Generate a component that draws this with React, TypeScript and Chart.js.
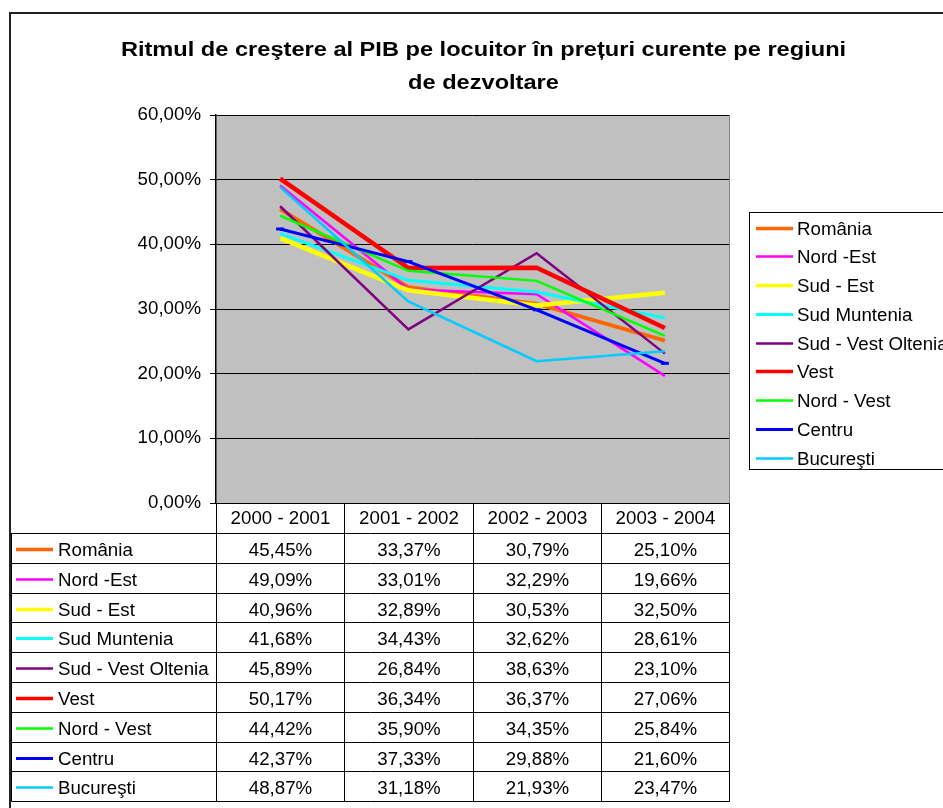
import React, { useEffect, useRef } from 'react';
import { Chart, registerables } from 'chart.js';

Chart.register(...registerables);

// ---------- data ----------
const chartTitle = [
  'Ritmul de creştere al PIB pe locuitor în prețuri curente pe regiuni',
  'de dezvoltare',
];
const categories = ['2000 - 2001', '2001 - 2002', '2002 - 2003', '2003 - 2004'];
const seriesNames = [
  'România',
  'Nord -Est',
  'Sud - Est',
  'Sud Muntenia',
  'Sud - Vest Oltenia',
  'Vest',
  'Nord - Vest',
  'Centru',
  'Bucureşti',
];
const romania = [45.45, 33.37, 30.79, 25.1];
const nordEst = [49.09, 33.01, 32.29, 19.66];
const sudEst = [40.96, 32.89, 30.53, 32.5];
const sudMuntenia = [41.68, 34.43, 32.62, 28.61];
const sudVestOltenia = [45.89, 26.84, 38.63, 23.1];
const vest = [50.17, 36.34, 36.37, 27.06];
const nordVest = [44.42, 35.9, 34.35, 25.84];
const centru = [42.37, 37.33, 29.88, 21.6];
const bucuresti = [48.87, 31.18, 21.93, 23.47];
const seriesValues = [
  romania,
  nordEst,
  sudEst,
  sudMuntenia,
  sudVestOltenia,
  vest,
  nordVest,
  centru,
  bucuresti,
];
const yMin = 0;
const yMax = 60;
const yStep = 10;

// ---------- styles ----------
const FONT = '"Liberation Sans", Arial, Helvetica, sans-serif';
const TEXT_SIZE = 18.7;
const seriesStyles = [
  { color: '#FF6600', width: 4 },
  { color: '#FF00FF', width: 2.5 },
  { color: '#FFFF00', width: 4.5 },
  { color: '#00FFFF', width: 3 },
  { color: '#800080', width: 2.5 },
  { color: '#FF0000', width: 4.5 },
  { color: '#00FF00', width: 2.5 },
  { color: '#0000FF', width: 3 },
  { color: '#00CCFF', width: 2.5 },
];

const fmt = (v: number) => v.toFixed(2).replace('.', ',') + '%';

const decorPlugin = {
  id: 'excelDecor',
  beforeDraw(chart: any) {
    const { ctx, chartArea: a } = chart;
    ctx.save();
    ctx.fillStyle = '#C0C0C0';
    ctx.fillRect(a.left, a.top, a.right - a.left, a.bottom - a.top);
    ctx.restore();
  },
  afterDraw(chart: any) {
    const { ctx, chartArea: a } = chart;
    ctx.save();

    // outer chart border
    ctx.strokeStyle = '#222';
    ctx.lineWidth = 2;
    ctx.strokeRect(10, 13, 1200, 1200);

    // title (horizontally stretched like the original)
    ctx.fillStyle = '#000';
    ctx.font = `bold 20px ${FONT}`;
    ctx.textAlign = 'center';
    ctx.textBaseline = 'middle';
    const stretch = 1.18;
    ctx.save();
    ctx.translate(483.5, 0);
    ctx.scale(stretch, 1);
    ctx.fillText(chartTitle[0], 0, 50.5);
    ctx.fillText(chartTitle[1], 0, 83.5);
    ctx.restore();

    // plot right border
    ctx.strokeStyle = '#808080';
    ctx.lineWidth = 1;
    ctx.beginPath();
    ctx.moveTo(a.right + 0.5, a.top);
    ctx.lineTo(a.right + 0.5, a.bottom);
    ctx.stroke();

    // data table
    const n = categories.length;
    const colW = (a.right - a.left) / n;
    const xs = Array.from({ length: n + 1 }, (_, i) => Math.round(a.left + i * colW) + 0.5);
    const headTop = Math.round(a.bottom) + 0.5;
    const headBottom = headTop + 29.5;
    const rowH = 29.8;
    const tableLeft = 11.5;
    const rows = seriesNames.length;
    const tableBottom = headBottom + rows * rowH;

    ctx.strokeStyle = '#000';
    ctx.lineWidth = 1;
    ctx.beginPath();
    ctx.moveTo(xs[0], headTop);
    ctx.lineTo(xs[n], headTop);
    for (let r = 0; r <= rows; r++) {
      const y = Math.round(headBottom + r * rowH) + 0.5;
      ctx.moveTo(tableLeft, y);
      ctx.lineTo(xs[n], y);
    }
    for (let i = 0; i <= n; i++) {
      ctx.moveTo(xs[i], headTop);
      ctx.lineTo(xs[i], Math.round(tableBottom) + 0.5);
    }
    ctx.moveTo(tableLeft, headBottom);
    ctx.lineTo(tableLeft, Math.round(tableBottom) + 0.5);
    ctx.stroke();

    ctx.font = `${TEXT_SIZE}px ${FONT}`;
    ctx.fillStyle = '#000';
    ctx.textBaseline = 'middle';
    ctx.textAlign = 'center';
    categories.forEach((c, i) => {
      ctx.fillText(c, (xs[i] + xs[i + 1]) / 2, (headTop + headBottom) / 2 + 1);
    });
    seriesNames.forEach((name, r) => {
      const rowMid = headBottom + r * rowH + rowH / 2;
      const cy = rowMid + 3;
      const st = seriesStyles[r];
      ctx.strokeStyle = st.color;
      ctx.lineWidth = Math.min(st.width, 3.5);
      ctx.beginPath();
      ctx.moveTo(16, Math.round(rowMid + 1) + 0.5);
      ctx.lineTo(53, Math.round(rowMid + 1) + 0.5);
      ctx.stroke();
      ctx.fillStyle = '#000';
      ctx.textAlign = 'left';
      ctx.fillText(name, 58, cy);
      ctx.textAlign = 'center';
      seriesValues[r].forEach((v, i) => {
        ctx.fillText(fmt(v), (xs[i] + xs[i + 1]) / 2, cy);
      });
    });

    // legend
    const lgLeft = 749.5;
    const lgTop = 212.5;
    const lgRowH = 28.75;
    ctx.strokeStyle = '#000';
    ctx.lineWidth = 1;
    ctx.strokeRect(lgLeft, lgTop, 400, 257);
    seriesNames.forEach((name, r) => {
      const cy = 227.5 + r * lgRowH;
      const st = seriesStyles[r];
      ctx.strokeStyle = st.color;
      ctx.lineWidth = Math.min(st.width, 3.5);
      ctx.beginPath();
      ctx.moveTo(756, Math.round(cy) + 0.5);
      ctx.lineTo(793, Math.round(cy) + 0.5);
      ctx.stroke();
      ctx.fillStyle = '#000';
      ctx.textAlign = 'left';
      ctx.fillText(name, 797, cy + 2);
    });

    ctx.restore();
  },
};

export default function App() {
  const canvasRef = useRef<HTMLCanvasElement | null>(null);

  useEffect(() => {
    const canvas = canvasRef.current;
    if (!canvas) return;
    const n = seriesNames.length;
    const chart = new Chart(canvas, {
      type: 'line',
      data: {
        labels: categories,
        datasets: seriesNames.map((name, i) => ({
          label: name,
          data: seriesValues[i],
          borderColor: seriesStyles[i].color,
          backgroundColor: seriesStyles[i].color,
          borderWidth: seriesStyles[i].width,
          pointRadius: name === 'Centru' ? 4 : 0,
          pointStyle: name === 'Centru' ? 'line' : 'circle',
          pointBorderWidth: 3,
          pointBorderColor: seriesStyles[i].color,
          tension: 0,
          fill: false,
          order: n - i,
        })),
      },
      options: {
        animation: false,
        responsive: false,
        maintainAspectRatio: false,
        devicePixelRatio: 1,
        layout: { padding: { left: 0, top: 115, right: 214, bottom: 305 } },
        plugins: {
          legend: { display: false },
          title: { display: false },
          tooltip: { enabled: false },
        },
        scales: {
          x: {
            type: 'category',
            display: false,
            offset: true,
          },
          y: {
            min: yMin,
            max: yMax,
            afterFit: (scale: any) => {
              scale.width = 216;
            },
            ticks: {
              stepSize: yStep,
              color: '#000',
              padding: 9,
              font: { family: FONT, size: TEXT_SIZE },
              callback: (v: any) => fmt(Number(v)),
            },
            grid: {
              color: '#000',
              lineWidth: 1,
              tickLength: 6,
              drawTicks: true,
            },
            border: { display: true, color: '#000', width: 1.5 },
          },
        },
      },
      plugins: [decorPlugin],
    });
    return () => chart.destroy();
  }, []);

  return (
    <div style={{ position: 'absolute', left: 0, top: 0, width: 943, height: 808, background: '#fff' }}>
      <canvas ref={canvasRef} width={943} height={808} style={{ display: 'block' }} />
    </div>
  );
}
